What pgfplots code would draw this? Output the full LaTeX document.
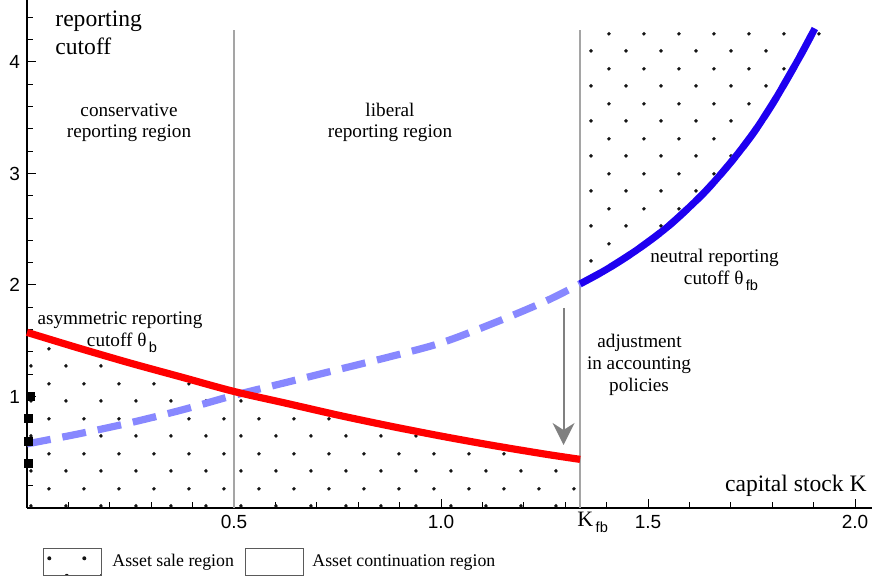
\documentclass[border=0pt]{standalone}
\usepackage{fontspec}
\setmainfont{Liberation Serif}
\newfontfamily\sansf{Liberation Sans}
\usepackage{pgfplots}
\pgfplotsset{compat=1.18}
\usetikzlibrary{patterns,arrows.meta}

\pgfdeclarepatternformonly{regiondots}{\pgfpointorigin}{\pgfqpoint{17.5pt}{17.5pt}}{\pgfqpoint{17.5pt}{17.5pt}}{%
  \pgfpathcircle{\pgfqpoint{7.15pt}{11.35pt}}{1.0pt}%
  \pgfpathcircle{\pgfqpoint{15.9pt}{2.6pt}}{1.0pt}%
  \pgfusepath{fill}}

\definecolor{myred}{RGB}{255,0,0}
\definecolor{lightblue}{RGB}{136,136,255}
\definecolor{darkblue}{RGB}{30,0,240}
\definecolor{vgray}{RGB}{165,165,165}
\definecolor{agray}{RGB}{128,128,128}
\definecolor{boxgray}{RGB}{90,90,90}
\definecolor{dotcol}{RGB}{20,20,20}

\newcommand{\subsf}[1]{\hspace{1.2pt}\raisebox{-3pt}{\sansf\fontsize{7.3}{8}\selectfont #1}}

\begin{document}
\begin{tikzpicture}
\begin{axis}[
  name=ax, at={(0,0)}, anchor=south west,
  scale only axis, width=422.5pt, height=254pt,
  xmin=0, xmax=2.041, ymin=0, ymax=4.556,
  axis x line=bottom, axis y line=left,
  axis line style={-, black, line width=0.6pt},
  every outer x axis line/.append style={-},
  every outer y axis line/.append style={-},
  clip=false,
  tick align=inside,
  xtick={0.5,1,1.5,2}, xticklabels={0.5,1.0,1.5,2.0},
  ytick={1,2,3,4}, yticklabels={1,2,3,4},
  minor xtick={0.1,0.2,0.3,0.4,0.6,0.7,0.8,0.9,1.1,1.2,1.3,1.4,1.6,1.7,1.8,1.9},
  minor ytick={0.2,0.4,0.6,0.8,1.2,1.4,1.6,1.8,2.2,2.4,2.6,2.8,3.2,3.4,3.6,3.8,4.2,4.4},
  major tick length=4.5pt, minor tick length=2.8pt,
  tick style={black, line width=0.5pt},
  ticklabel style={font=\sansf\fontsize{9.5}{11}\selectfont},
]
% asset sale region (dots): below asymmetric cutoff for K < K_fb
\addplot[draw=none, pattern=regiondots, pattern color=dotcol, smooth] coordinates {
 (0,0) (0,1.575) (0.125,1.434) (0.25,1.299) (0.375,1.172) (0.5,1.045) (0.625,0.940)
 (0.75,0.834) (0.875,0.736) (1.0,0.645) (1.125,0.561) (1.25,0.484) (1.336,0.436) (1.336,0)} -- cycle;
% asset sale region above neutral cutoff for K > K_fb
\addplot[draw=none, pattern=regiondots, pattern color=dotcol, smooth] coordinates {
 (1.336,2.01) (1.40,2.14) (1.473,2.314) (1.55,2.53) (1.634,2.822) (1.70,3.10)
 (1.754,3.36) (1.80,3.62) (1.835,3.84) (1.87,4.07) (1.903,4.30) (1.336,4.30)} -- cycle;

% region boundaries
\addplot[vgray, line width=0.65pt] coordinates {(0.5,0) (0.5,4.29)};
\addplot[vgray, line width=0.65pt] coordinates {(1.336,0) (1.336,4.29)};

% adjustment arrow
\addplot[agray, line width=1pt, -{Stealth[length=11pt,width=11pt,inset=3.5pt]}] coordinates {(1.296,1.794) (1.296,0.565)};

% neutral reporting cutoff (dashed, full range)
\addplot[lightblue, line width=3.6pt, dash pattern=on 12pt off 6pt, smooth] coordinates {
 (0,0.575) (0.125,0.665) (0.25,0.765) (0.375,0.88) (0.5,1.01) (0.625,1.125) (0.75,1.24)
 (0.875,1.355) (1.0,1.48) (1.125,1.655) (1.25,1.85) (1.336,2.01) (1.40,2.14) (1.473,2.314)
 (1.55,2.53) (1.634,2.822) (1.70,3.10) (1.754,3.36) (1.80,3.62) (1.835,3.84) (1.87,4.07) (1.903,4.30)};
% neutral reporting cutoff (solid, K > K_fb)
\addplot[darkblue, line width=3.5pt, smooth] coordinates {
 (1.336,2.01) (1.40,2.14) (1.473,2.314) (1.55,2.53) (1.634,2.822) (1.70,3.10)
 (1.754,3.36) (1.80,3.62) (1.835,3.84) (1.87,4.07) (1.903,4.30)};
% asymmetric reporting cutoff
\addplot[myred, line width=3.6pt, smooth] coordinates {
 (0,1.575) (0.125,1.434) (0.25,1.299) (0.375,1.172) (0.5,1.045) (0.625,0.940)
 (0.75,0.834) (0.875,0.736) (1.0,0.645) (1.125,0.561) (1.25,0.484) (1.336,0.436)};

% marks on the vertical axis
\addplot[only marks, mark=square*, mark size=2pt, black] coordinates {(0.008,1.0) (0.004,0.8) (0.004,0.6) (0.004,0.4)};
\end{axis}

\begin{scope}[x=0.5pt, y=-0.5pt, shift={(-13.5pt,254pt)}]
  \tikzset{lab/.style={inner sep=0pt, font=\fontsize{9.6}{11}\selectfont}}
  \node[inner sep=0pt, anchor=base west, font=\fontsize{11.8}{14}\selectfont] at (55,26.7) {reporting};
  \node[inner sep=0pt, anchor=base west, font=\fontsize{11.8}{14}\selectfont] at (55,55) {cutoff};
  \node[inner sep=0pt, anchor=base east, font=\fontsize{11.8}{14}\selectfont] at (867,492) {capital stock K};
  \node[lab, anchor=base] at (129,117) {conservative};
  \node[lab, anchor=base] at (129,138) {reporting region};
  \node[lab, anchor=base] at (390,117) {liberal};
  \node[lab, anchor=base] at (390,138) {reporting region};
  \node[lab, anchor=base] at (714.5,263) {neutral reporting};
  \node[lab, anchor=base] at (721,285) {cutoff θ\subsf{fb}};
  \node[lab, anchor=base] at (639.5,348) {adjustment};
  \node[lab, anchor=base] at (639,370) {in accounting};
  \node[lab, anchor=base] at (639,392) {policies};
  \node[lab, anchor=base] at (120,325) {asymmetric reporting};
  \node[lab, anchor=base] at (122,347) {cutoff θ\subsf{b}};
  \node[inner sep=0pt, anchor=base west, font=\fontsize{11}{13}\selectfont] at (577,527) {K\subsf{fb}};
  % legend
  \draw[boxgray, line width=0.5pt, pattern=regiondots, pattern color=dotcol] (43,549) rectangle (101,576);
  \draw[boxgray, line width=0.5pt] (245,549) rectangle (303,576);
  \node[inner sep=0pt, anchor=base west, font=\fontsize{8.9}{11}\selectfont] at (112,567) {Asset sale region};
  \node[inner sep=0pt, anchor=base west, font=\fontsize{8.9}{11}\selectfont] at (312,567) {Asset continuation region};
\end{scope}
\pgfresetboundingbox
\useasboundingbox (-13.5pt,-36.5pt) rectangle (422.5pt,254pt);
\end{tikzpicture}
\end{document}
